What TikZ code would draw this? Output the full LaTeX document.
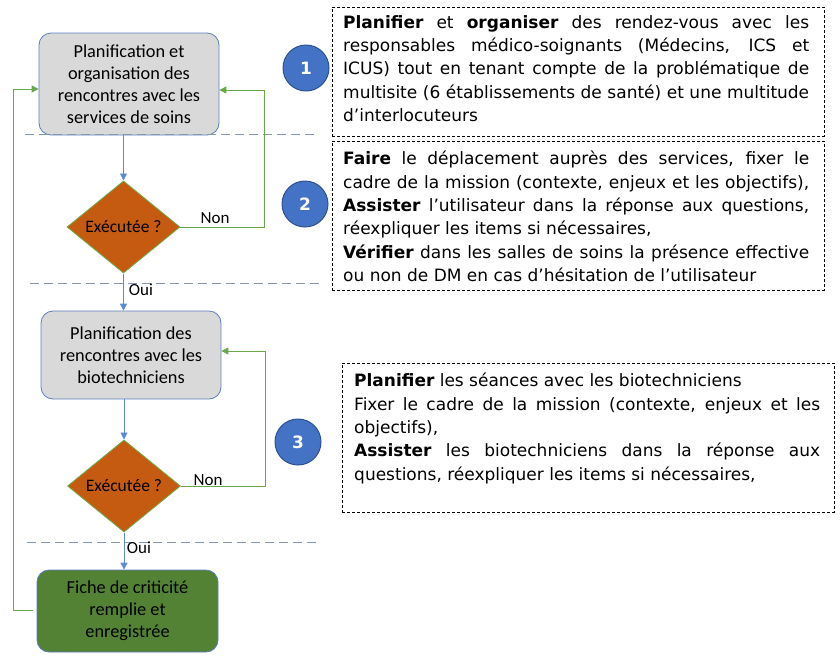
\documentclass[tikz,border=0pt]{standalone}
\usepackage{fontspec}
\setmainfont{Carlito}
\newfontfamily\vfont{DejaVu Sans}
\usetikzlibrary{shapes.geometric,arrows.meta}
\definecolor{boxgray}{HTML}{D9D9D9}
\definecolor{boxblue}{HTML}{5B7FC0}
\definecolor{decorange}{HTML}{C55A11}
\definecolor{decgreen}{HTML}{70AD47}
\definecolor{fingreen}{HTML}{548235}
\definecolor{numblue}{HTML}{4472C4}
\definecolor{numborder}{HTML}{2F528F}
\definecolor{linkblue}{HTML}{5B8BD6}
\definecolor{loopgreen}{HTML}{6AA64A}
\definecolor{dashgray}{HTML}{8497B0}
\newcommand{\jl}[1]{{\spaceskip=0pt\xspaceskip=0pt\makebox[466pt][s]{#1}}}
\begin{document}
\begin{tikzpicture}[x=1pt,y=-1pt,
  proc/.style={draw=boxblue, fill=boxgray, rounded corners=12pt, line width=0.8pt,
    align=center, font=\fontsize{18.3}{22}\selectfont, inner sep=0pt},
  fin/.style={proc, fill=fingreen},
  dec/.style={diamond, draw=decgreen, fill=decorange, line width=0.8pt, inner sep=1pt,
    minimum width=113pt, minimum height=91pt, font=\fontsize{17.5}{20}\selectfont},
  num/.style={circle, draw=numborder, fill=numblue, line width=1pt, minimum size=46pt,
    text=white, font=\vfont\bfseries\fontsize{17}{19}\selectfont, inner sep=0pt},
  sep/.style={draw=dashgray, line width=1pt, dash pattern=on 9pt off 5pt},
  flow/.style={draw=linkblue, line width=0.9pt, -{Triangle[length=7pt,width=7pt]}},
  loop/.style={draw=loopgreen, line width=1pt, -{Triangle[length=7pt,width=7pt]}},
  lbl/.style={font=\fontsize{17}{20}\selectfont, inner sep=0pt},
  note/.style={draw=black, line width=0.7pt, dash pattern=on 3pt off 2pt, inner sep=0pt, anchor=north west},
  notetext/.style={anchor=north west, inner sep=0pt, text width=466pt, align=justify,
    font=\vfont\fontsize{17}{23.3}\selectfont},
]
\useasboundingbox (0,0) rectangle (840,662);

% flowchart nodes
\node[proc, minimum width=180pt, minimum height=102pt] (A) at (129,84)
  {Planification et\\organisation des\\rencontres avec les\\services de soins};
\node[dec] (D1) at (123.5,227) {Exécutée ?};
\node[proc, minimum width=180pt, minimum height=88pt] (B) at (131,355)
  {Planification des\\rencontres avec les\\biotechniciens};
\node[dec] (D2) at (124,486) {Exécutée ?};
\node[fin, minimum width=181pt, minimum height=82pt] (C) at (127.5,611)
  {Fiche de criticité\\remplie et\\enregistrée};

% dashed separators
\draw[sep] (25,134.5) -- (318,134.5);
\draw[sep] (30,283) -- (322,283);
\draw[sep] (27,542) -- (320,542);

% numbered circles
\node[num] (N1) at (306,68) {1};
\node[num] (N2) at (305,204) {2};
\node[num] (N3) at (298,442) {3};

% main flow
\draw[flow] (D1.north |- A.south) -- (D1.north);
\draw[flow] (D1.south) -- (D1.south |- B.north);
\draw[flow] (D2.north |- B.south) -- (D2.north);
\draw[flow] (D2.south) -- (D2.south |- C.north);

% loops
\coordinate (nA) at (264,90);
\coordinate (nB) at (265,351);
\coordinate (fb) at (13,610);
\draw[loop] (D1.east) -| (nA) -- (nA -| A.east);
\draw[loop] (D2.east) -| (nB) -- (nB -| B.east);
\draw[loop] ([xshift=-4pt]C.west |- fb) -- (fb) |- ([yshift=-5pt]A.west);

% labels
\node[lbl] (L1) at (215,218) {Non};
\node[lbl] (L2) at (208,480) {Non};
\node[lbl] (O1) at (141,290) {Oui};
\node[lbl] (O2) at (139,548) {Oui};

% text boxes
\node[note, minimum width=492pt, minimum height=129pt] (T1) at (332,7) {};
\node[note, minimum width=492pt, minimum height=149pt] (T2) at (332,141) {};
\node[note, minimum width=492pt, minimum height=149pt] (T3) at (342,363) {};

\node[notetext] (X1) at (343,15) {\jl{\textbf{Planifier} et \textbf{organiser} des rendez-vous avec les}\\
\jl{responsables médico-soignants (Médecins, ICS et}\\
\jl{ICUS) tout en tenant compte de la problématique de}\\
\jl{multisite (6 établissements de santé) et une multitude}\\
d’interlocuteurs};
\node[notetext] (X2) at (343,151) {\jl{\textbf{Faire} le déplacement auprès des services, fixer le}\\
\jl{cadre de la mission (contexte, enjeux et les objectifs),}\\
\jl{\textbf{Assister} l’utilisateur dans la réponse aux questions,}\\
réexpliquer les items si nécessaires,\\
\jl{\textbf{Vérifier} dans les salles de soins la présence effective}\\
ou non de DM en cas d’hésitation de l’utilisateur};
\node[notetext] (X3) at (354,373) {\textbf{Planifier} les séances avec les biotechniciens\\
\jl{Fixer le cadre de la mission (contexte, enjeux et les}\\
objectifs),\\
\jl{\textbf{Assister} les biotechniciens dans la réponse aux}\\
questions, réexpliquer les items si nécessaires,};
\end{tikzpicture}
\end{document}
